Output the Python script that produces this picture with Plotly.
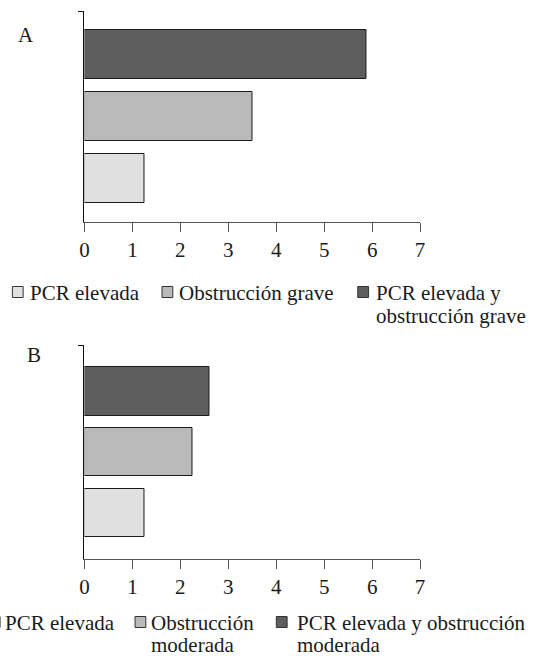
import plotly.graph_objects as go

# ---- data ----
categories = ["PCR elevada", "Obstrucción", "PCR elevada y obstrucción"]
values_a = [1.26, 3.51, 5.89]
values_b = [1.26, 2.26, 2.61]
legend_a = ["PCR elevada", "Obstrucción grave", "PCR elevada y<br>obstrucción grave"]
legend_b = ["PCR elevada", "Obstrucción<br>moderada", "PCR elevada y obstrucción<br>moderada"]
panel_labels = ["A", "B"]
x_ticks = [0, 1, 2, 3, 4, 5, 6, 7]

# ---- styles ----
W, H = 534, 656
colors = ["#e0e0e0", "#bababa", "#5e5e5e"]
FONT = "Liberation Serif, Times New Roman, Times, DejaVu Serif, serif"
TXT = "#1a1a1a"
FS = 21


def px(x):
    return x / W


def py(y):
    return 1 - y / H


fig = go.Figure()

panels = [
    dict(vals=values_a, xa="x", ya="y", width=0.79),
    dict(vals=values_b, xa="x2", ya="y2", width=0.80),
]
for p in panels:
    for i, (cat, v) in enumerate(zip(categories, p["vals"])):
        fig.add_trace(go.Bar(
            x=[v], y=[i], orientation="h", name=cat, width=p["width"],
            marker=dict(color=colors[i], line=dict(color="#1a1a1a", width=1)),
            xaxis=p["xa"], yaxis=p["ya"], showlegend=False, hoverinfo="x",
        ))

xdom = [px(81), px(423)]
common_x = dict(
    domain=xdom, range=[0, 7], tickvals=x_ticks, ticks="outside", ticklen=9,
    tickcolor="#555555", tickwidth=1, showline=True, linecolor="#555555",
    linewidth=1, showgrid=False, zeroline=False,
    tickfont=dict(family=FONT, size=FS, color=TXT),
)
yr_a = [-0.71, 2.70]
yr_b = [-0.75, 2.76]
common_y = dict(
    showline=True, linecolor="#111111", linewidth=1.3, showgrid=False,
    zeroline=False, ticks="outside", ticklen=5, tickcolor="#111111",
    tickwidth=1.3,
)
fig.update_layout(
    width=W, height=H, margin=dict(l=0, r=0, t=0, b=0),
    paper_bgcolor="white", plot_bgcolor="white",
    xaxis=dict(anchor="y", **common_x),
    yaxis=dict(anchor="x", domain=[py(222), py(11)], range=yr_a,
               tickvals=[yr_a[1]], ticktext=[""], **common_y),
    xaxis2=dict(anchor="y2", **common_x),
    yaxis2=dict(anchor="x2", domain=[py(558.5), py(345)], range=yr_b,
                tickvals=[yr_b[1]], ticktext=[""], **common_y),
    font=dict(family=FONT, size=FS, color=TXT),
    bargap=0,
)

# panel letters
for lab, (lx, ly) in zip(panel_labels, [(21.5, 35.5), (29.5, 355)]):
    fig.add_annotation(text=lab, x=px(lx), y=py(ly), xref="paper", yref="paper",
                       xanchor="center", yanchor="middle", showarrow=False,
                       font=dict(family=FONT, size=FS, color=TXT))

# legends (manual, to match the reference layout)
legend_layouts = [
    (legend_a, [7.5, 160, 359.5], [24, 176, 377], 293, 316),
    (legend_b, [-16, 132.5, 276.5], [-1, 148, 297], 623, 645),
]
for labels, sq_x, tx_x, y1, y2 in legend_layouts:
    for i, lab in enumerate(labels):
        fig.add_shape(type="rect", xref="paper", yref="paper",
                      x0=px(sq_x[i]), x1=px(sq_x[i] + 11),
                      y0=py(y1 - 6.5), y1=py(y1 + 4.5),
                      fillcolor=colors[i], line=dict(color="#333333", width=1))
        for j, line in enumerate(lab.split("<br>")):
            fig.add_annotation(text=line, x=px(tx_x[i] - 1), y=py(y1 if j == 0 else y2),
                               xref="paper", yref="paper", xanchor="left",
                               yanchor="middle", showarrow=False,
                               font=dict(family=FONT, size=FS, color=TXT))

fig.write_html("out.html")
